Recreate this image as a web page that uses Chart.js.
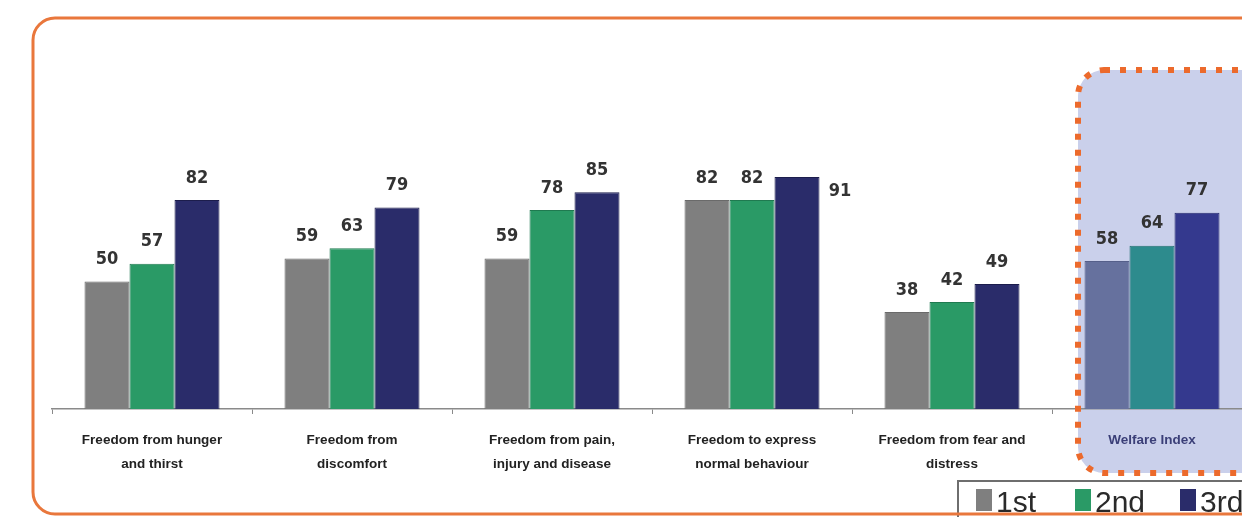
<!DOCTYPE html>
<html>
<head>
<meta charset="utf-8">
<script src="https://cdn.jsdelivr.net/npm/chart.js@4"></script>
<style>
    html, body { margin: 0; padding: 0; background: #ffffff; overflow: hidden; }
    #chart { display: block; }
</style>
</head>
<body>
<canvas id="chart" width="1300" height="517"></canvas>
<script>
const categories = [
    ['Freedom from hunger', 'and thirst'],
    ['Freedom from', 'discomfort'],
    ['Freedom from pain,', 'injury and disease'],
    ['Freedom to express', 'normal behaviour'],
    ['Freedom from fear and', 'distress'],
    'Welfare Index'
];
const seriesNames = ['1st', '2nd', '3rd'];
const firstValues = [50, 59, 59, 82, 38, 58];
const secondValues = [57, 63, 78, 82, 42, 64];
const thirdValues = [82, 79, 85, 91, 49, 77];

const narrowFont = "'Liberation Sans Narrow', 'DejaVu Sans Condensed', 'Liberation Sans', Arial, sans-serif";
const plainFont = "'Liberation Sans', Arial, sans-serif";

// Welfare Index bars use a different shade of each colour
function barColors(normal, welfare) {
    return categories.map((c, i) => i === categories.length - 1 ? welfare : normal);
}

function highlightPath(chart) {
    const area = chart.chartArea;
    const left = chart.scales.x.getPixelForValue(5) - 74;
    const top = area.top - 33;
    const bottom = area.bottom + 64;
    chart.ctx.beginPath();
    chart.ctx.roundRect(left, top, chart.width - left + 40, bottom - top, 26);
}

const frameBorder = {
    id: 'frameBorder',
    beforeDraw(chart) {
        const ctx = chart.ctx;
        ctx.save();
        highlightPath(chart);
        ctx.fillStyle = '#cad0eb';
        ctx.fill();
        ctx.restore();
    },
    afterDraw(chart) {
        const ctx = chart.ctx;

        // dotted highlight around the index
        ctx.save();
        highlightPath(chart);
        ctx.strokeStyle = '#ec6a2c';
        ctx.lineWidth = 6;
        ctx.setLineDash([6, 10]);
        ctx.stroke();
        ctx.restore();

        // legend box
        ctx.save();
        ctx.fillStyle = '#ffffff';
        ctx.fillRect(958, 481, 400, 60);
        ctx.strokeStyle = '#6e6e6e';
        ctx.lineWidth = 2;
        ctx.strokeRect(958, 481, 400, 60);
        const itemX = [976, 1075, 1180];
        chart.data.datasets.forEach((ds, i) => {
            ctx.fillStyle = ds.backgroundColor[0];
            ctx.fillRect(itemX[i], 489, 16, 22);
            ctx.fillStyle = '#2a2a2a';
            ctx.font = '30px ' + plainFont;
            ctx.textAlign = 'left';
            ctx.textBaseline = 'alphabetic';
            ctx.fillText(ds.label, itemX[i] + 20, 512);
        });
        ctx.restore();

        // outer orange frame
        ctx.save();
        ctx.beginPath();
        ctx.roundRect(33, 18, chart.width + 40, 496, 22);
        ctx.strokeStyle = '#e9773c';
        ctx.lineWidth = 3;
        ctx.stroke();
        ctx.restore();
    }
};

const valueLabels = {
    id: 'valueLabels',
    afterDatasetsDraw(chart) {
        const ctx = chart.ctx;
        ctx.save();
        ctx.font = 'bold 18px ' + narrowFont;
        ctx.fillStyle = '#333333';
        ctx.textAlign = 'center';
        ctx.textBaseline = 'middle';
        chart.data.datasets.forEach((ds, di) => {
            chart.getDatasetMeta(di).data.forEach((bar, i) => {
                let x = bar.x;
                let y = bar.y - 22;
                if (di === 2 && i === 3) {
                    // this label sits beside its bar in the original
                    x = bar.x + 43;
                    y = bar.y + 14;
                }
                ctx.fillText(String(ds.data[i]), x, y);
            });
        });
        ctx.restore();
    }
};

const ctx = document.getElementById('chart').getContext('2d');
new Chart(ctx, {
    type: 'bar',
    data: {
        labels: categories,
        datasets: [
            {
                label: seriesNames[0],
                data: firstValues,
                backgroundColor: barColors('#7f7f7f', '#66719e'),
                borderColor: barColors('#6a6a6a', '#555f8a'),
                borderWidth: 1
            },
            {
                label: seriesNames[1],
                data: secondValues,
                backgroundColor: barColors('#2a9a66', '#2d8b8d'),
                borderColor: barColors('#1f7a50', '#226e70'),
                borderWidth: 1
            },
            {
                label: seriesNames[2],
                data: thirdValues,
                backgroundColor: barColors('#2a2c6a', '#34398e'),
                borderColor: barColors('#1c1d4c', '#262a6e'),
                borderWidth: 1
            }
        ]
    },
    options: {
        responsive: false,
        animation: false,
        layout: {
            padding: { left: 52, right: 48, top: 103, bottom: 0 }
        },
        datasets: {
            bar: {
                categoryPercentage: 0.675,
                barPercentage: 1
            }
        },
        plugins: {
            legend: { display: false },
            tooltip: { enabled: false }
        },
        scales: {
            y: {
                display: false,
                min: 0,
                max: 120
            },
            x: {
                afterFit(scale) {
                    scale.height = 108;
                },
                border: { display: true, color: '#8a8a8a', width: 1.5 },
                grid: {
                    offset: true,
                    drawOnChartArea: false,
                    drawTicks: true,
                    tickLength: 5,
                    color: '#8a8a8a'
                },
                ticks: {
                    autoSkip: false,
                    maxRotation: 0,
                    padding: 14,
                    color: (c) => c.index === categories.length - 1 ? '#3b3f78' : '#222222',
                    font: { family: plainFont, size: 13.5, weight: 'bold', lineHeight: 1.8 }
                }
            }
        }
    },
    plugins: [frameBorder, valueLabels]
});
</script>
</body>
</html>
